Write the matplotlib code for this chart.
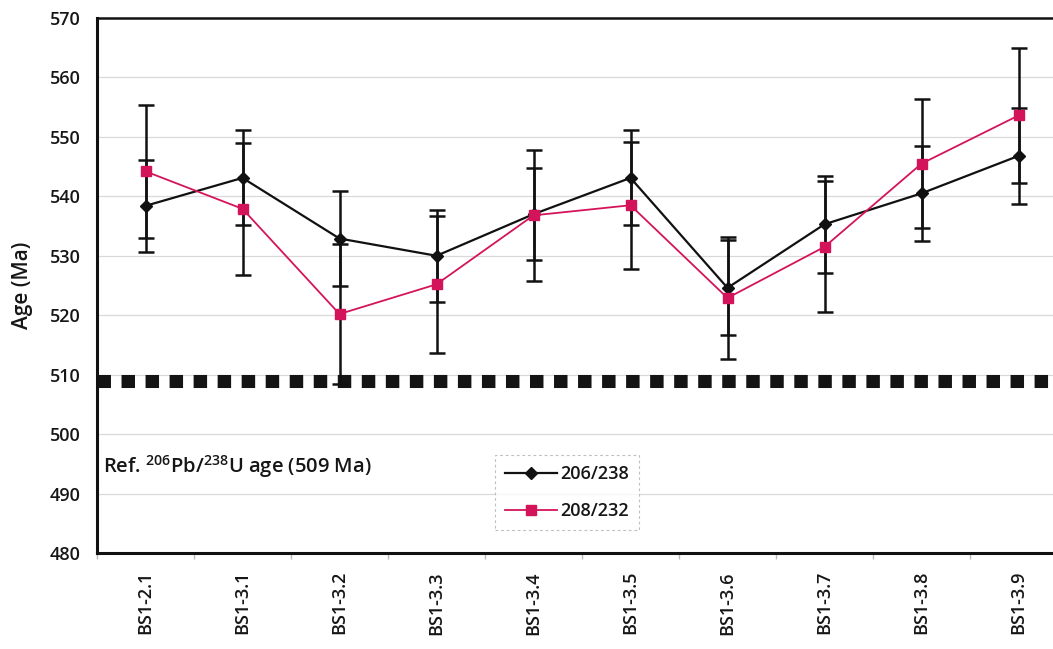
import matplotlib
matplotlib.use("Agg")
import matplotlib.pyplot as plt
import numpy as np

plt.rcParams["font.family"] = ["Open Sans", "DejaVu Sans"]
plt.rcParams["lines.scale_dashes"] = False

# Spot names and ages (Ma) with 1-sigma errors
spots = ["BS1-2.1", "BS1-3.1", "BS1-3.2", "BS1-3.3", "BS1-3.4",
         "BS1-3.5", "BS1-3.6", "BS1-3.7", "BS1-3.8", "BS1-3.9"]
age_206_238 = [538.4, 543.1, 532.9, 530.0, 537.0, 543.1, 524.6, 535.3, 540.5, 546.8]
err_206_238 = [7.7, 8.0, 8.0, 7.7, 7.7, 8.0, 8.0, 8.2, 8.0, 8.1]
age_208_232 = [544.2, 537.9, 520.2, 525.2, 536.8, 538.5, 522.9, 531.5, 545.5, 553.6]
err_208_232 = [11.2, 11.1, 11.8, 11.5, 11.0, 10.7, 10.2, 11.0, 10.8, 11.4]
ref_age = 509
y_ticks = list(range(480, 571, 10))

pink = "#d4145a"
ink = "#161616"

fig = plt.figure(figsize=(10.53, 6.49), dpi=100)
W, H = 1053, 649
ax = fig.add_axes([97 / W, (H - 553) / H, 970 / W, (553 - 18) / H])

x = np.arange(len(spots))

# grid
for v in y_ticks[1:-1]:
    ax.axhline(v, color="#d9d9d9", lw=0.9, zorder=0)

# reference age line
ax.axhline(ref_age, color="#141414", lw=9.4, zorder=2,
           linestyle=(0, (9.7, 7.6)), dash_capstyle="butt")

ax.errorbar(x, age_206_238, yerr=err_206_238, fmt="none", ecolor="#111111",
            elinewidth=1.8, capsize=6, capthick=1.8, zorder=3)
ax.errorbar(x, age_208_232, yerr=err_208_232, fmt="none", ecolor="#111111",
            elinewidth=1.8, capsize=6, capthick=1.8, zorder=3)

ax.plot(x, age_206_238, color="#111111", lw=1.6, marker="D", markersize=6.5,
        markerfacecolor="#111111", markeredgecolor="#111111",
        label="206/238", zorder=4)
ax.plot(x, age_208_232, color=pink, lw=1.3, marker="s", markersize=7,
        markerfacecolor=pink, markeredgecolor=pink,
        label="208/232", zorder=5)

ax.set_xlim(-0.5, len(spots) - 0.5)
ax.set_ylim(480, 570)
ax.set_yticks(y_ticks)
ax.set_yticklabels([str(v) for v in y_ticks], fontsize=13, color=ink,
                   fontweight="semibold")
ax.set_xticks(x)
ax.set_xticklabels(spots, rotation=90, fontsize=13, color=ink,
                   fontweight="semibold")
ax.set_xticks(np.arange(len(spots) + 1) - 0.5, minor=True)
ax.tick_params(axis="x", which="major", length=0, pad=13)
ax.tick_params(axis="x", which="minor", length=4, color="#bbbbbb", width=1)
ax.tick_params(axis="y", length=0, pad=12)

ax.set_ylabel("Age (Ma)", fontsize=15, color=ink, labelpad=12,
              fontweight="semibold")

for side in ("left", "bottom"):
    ax.spines[side].set_linewidth(2.2)
    ax.spines[side].set_color("#111111")
ax.spines["top"].set_linewidth(1.8)
ax.spines["top"].set_color("#111111")
ax.spines["right"].set_visible(False)

ax.text(-0.44, 494.6, r"Ref. $\mathregular{^{206}}$Pb/$\mathregular{^{238}}$U age (509 Ma)",
        fontsize=14.5, color=ink, va="center", ha="left", zorder=6,
        fontweight="semibold")

leg = ax.legend(loc="upper left", bbox_to_anchor=(495 / W, (H - 455) / H),
                bbox_transform=fig.transFigure, borderaxespad=0,
                prop={"size": 13, "weight": "semibold"},
                frameon=True, fancybox=False, handlelength=2.9,
                handletextpad=0.15, borderpad=0.55, labelspacing=1.05)
for txt in leg.get_texts():
    txt.set_color(ink)
leg.get_frame().set_edgecolor("#b0b0b0")
leg.get_frame().set_linestyle((0, (2, 2)))
leg.get_frame().set_linewidth(0.8)

fig.savefig("out.png", dpi=100)
